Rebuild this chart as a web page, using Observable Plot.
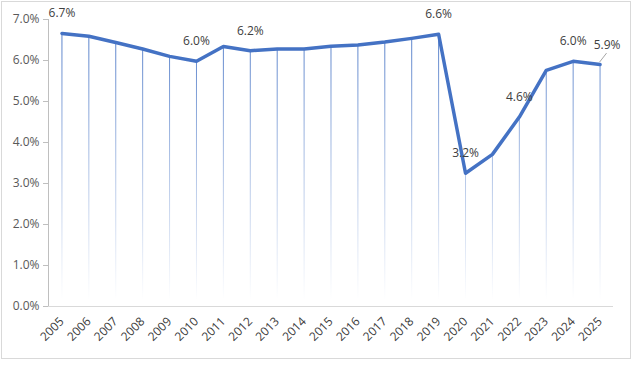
<!DOCTYPE html>
<html>
<head>
<meta charset="utf-8">
<script src="https://cdn.jsdelivr.net/npm/d3@7"></script>
<script src="https://cdn.jsdelivr.net/npm/@observablehq/plot@0.6"></script>
<style>
  html, body { margin: 0; padding: 0; background: #fff; }
  #wrap { position: relative; width: 632px; height: 371px; }
  #border { position: absolute; left: 1px; top: 1px; width: 630px; height: 358px; border: 1px solid #d9d9d9; box-sizing: border-box; pointer-events: none; }
  svg { font-family: "Segoe UI", "Open Sans", sans-serif; }
</style>
</head>
<body>
<div id="wrap"><div id="border"></div></div>
<script>
const years = ["2005","2006","2007","2008","2009","2010","2011","2012","2013","2014","2015","2016","2017","2018","2019","2020","2021","2022","2023","2024","2025"];
const values = [6.66, 6.59, 6.44, 6.28, 6.10, 5.98, 6.34, 6.24, 6.28, 6.28, 6.35, 6.38, 6.45, 6.54, 6.64, 3.25, 3.71, 4.62, 5.76, 5.98, 5.90];
const labelYears = ["2005","2010","2012","2019","2020","2022","2024"];
const labelTexts = ["6.7%","6.0%","6.2%","6.6%","3.2%","4.6%","6.0%"];
const offsetLabelYear = "2025";
const offsetLabelText = "5.9%";
const yTicks = [0, 1, 2, 3, 4, 5, 6, 7];

const data = years.map((y, i) => ({year: y, value: values[i]}));
const labels = labelYears.map((y, i) => ({year: y, value: values[years.indexOf(y)], text: labelTexts[i]}));
const offLabel = [{year: offsetLabelYear, value: values[years.indexOf(offsetLabelYear)], text: offsetLabelText}];

const chart = Plot.plot({
  width: 632,
  height: 360,
  marginLeft: 48,
  marginRight: 19,
  marginTop: 19,
  marginBottom: 54,
  style: {fontSize: "12px", color: "#595959", background: "transparent"},
  x: {type: "band", domain: years, padding: 0, round: false, label: null, tickSize: 0},
  y: {domain: [0, 7], ticks: yTicks, tickFormat: d => d.toFixed(1) + "%", label: null, tickSize: 0},
  marks: [
    Plot.ruleX(data, {x: "year", y1: 0, y2: "value", stroke: "#4472C4", strokeWidth: 1, className: "droplines"}),
    Plot.ruleY([0], {stroke: "#d9d9d9", strokeWidth: 1}),
    Plot.axisY({ticks: yTicks, tickFormat: d => d.toFixed(1) + "%", tickSize: 5, tickPadding: 4, stroke: "#bfbfbf", fill: "#595959", fontSize: 12}),
    Plot.axisX({tickRotate: -45, tickSize: 0, tickPadding: 13, fill: "#404040", fontSize: 12, textAnchor: "end"}),
    Plot.line(data, {x: "year", y: "value", stroke: "#4472C4", strokeWidth: 3.5, strokeLinejoin: "round"}),
    Plot.text(labels, {x: "year", y: "value", text: "text", dy: -20, fill: "#404040", fontSize: 12}),
    Plot.text(offLabel, {x: "year", y: "value", text: "text", dx: 7, dy: -19, fill: "#404040", fontSize: 12})
  ]
});

const svg = d3.select(chart);
const defs = svg.insert("defs", ":first-child");
const grad = defs.append("linearGradient").attr("id", "fade")
  .attr("gradientUnits", "userSpaceOnUse").attr("x1", 0).attr("x2", 0).attr("y1", 20).attr("y2", 300);
grad.append("stop").attr("offset", "0%").attr("stop-color", "#4472C4").attr("stop-opacity", 0.95);
grad.append("stop").attr("offset", "45%").attr("stop-color", "#4472C4").attr("stop-opacity", 0.5);
grad.append("stop").attr("offset", "100%").attr("stop-color", "#4472C4").attr("stop-opacity", 0.0);
svg.selectAll(".droplines, .droplines line").attr("stroke", "url(#fade)");

const xs = chart.scale("x"), ys = chart.scale("y");
// y axis line
svg.append("line").attr("x1", 48.5).attr("x2", 48.5).attr("y1", ys.apply(7)).attr("y2", ys.apply(0))
  .attr("stroke", "#bfbfbf").attr("stroke-width", 1);

// leader line for the offset label
const px = xs.apply(offsetLabelYear) + xs.bandwidth / 2;
const py = ys.apply(offLabel[0].value);
svg.append("line").attr("x1", px).attr("y1", py - 2).attr("x2", px + 7).attr("y2", py - 11)
  .attr("stroke", "#a6a6a6").attr("stroke-width", 1);

document.getElementById("wrap").prepend(chart);
</script>
</body>
</html>
